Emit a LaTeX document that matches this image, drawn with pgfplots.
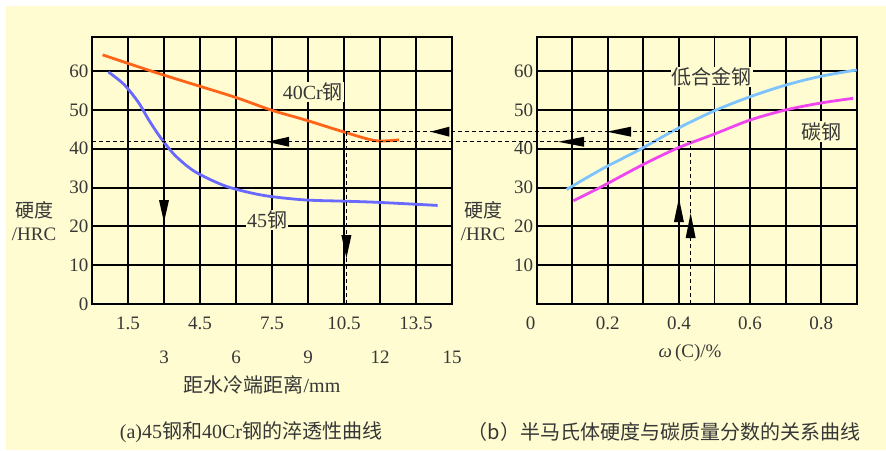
\documentclass[border=0pt]{standalone}
\usepackage{pgfplots}
\pgfplotsset{compat=1.18}
\usepackage{fontspec}
\setmainfont{Liberation Serif}
\newfontfamily\cjk{Noto Sans CJK SC}
\definecolor{bg}{RGB}{254,252,208}
\definecolor{txt}{RGB}{55,55,55}
\definecolor{c40}{RGB}{255,100,25}
\definecolor{c45}{RGB}{105,105,255}
\definecolor{clow}{RGB}{125,195,255}
\definecolor{ccarb}{RGB}{240,70,240}
\pgfplotsset{myax/.style={
  scale only axis, height=267pt, ymin=0, ymax=68.8,
  grid=major, major grid style={black,line width=1.9pt},
  axis line style={black,line width=1.9pt}, major tick length=0pt,
  clip=false, xticklabels={},
  ticklabel style={font=\fontsize{19}{21}\selectfont, text=txt},
  /pgf/number format/assume math mode=true,
  anchor=south west}}
\tikzset{lab/.style={font=\fontsize{20}{22}\selectfont, text=txt},
  tl/.style={font=\fontsize{19}{21}\selectfont, text=txt},
  dsh/.style={black, line width=0.9pt, dash pattern=on 4pt off 3pt}}
\begin{document}
\begin{tikzpicture}[x=1pt,y=1pt]
\fill[bg] (0,0) rectangle (886,450);
\fill[white] (0,444) rectangle (886,450);
\fill[white] (0,0) rectangle (6,450);
\path[use as bounding box] (0,0) rectangle (886,450);

% ---------- (a) ----------
\begin{axis}[myax, at={(92pt,146pt)}, width=360pt,
  xmin=0, xmax=15, xtick={0,1.5,3,4.5,6,7.5,9,10.5,12,13.5,15}, ytick={0,10,20,30,40,50,60}]
\node[lab, fill=bg, inner sep=1pt] at (axis cs:9.2,54.6) {40Cr{\cjk 钢}};
\node[lab, fill=bg, inner sep=1pt] at (axis cs:7.3,21.6) {45{\cjk 钢}};
\addplot[c40, line width=2.8pt, smooth] coordinates {
 (0.44,64.2) (2.83,59.3) (5.9,53.4) (7.45,50) (8.9,47.4) (10.46,44.4) (11.8,42.1) (12.8,42.3)};
\addplot[c45, line width=2.8pt, smooth] coordinates {
 (0.68,59.8) (1.33,56.6) (1.93,52) (2.35,47.6) (2.83,43.1) (3.46,38.3) (4.29,34.1) (5.47,30.6)
 (6.5,28.8) (7.45,27.7) (8.9,26.8) (10.46,26.5) (11.9,26.2) (14.4,25.4)};
\draw[dsh] (axis cs:3,0) -- (axis cs:3,41.8);
\draw[dsh] (axis cs:10.6,0) -- (axis cs:10.6,44.4);
\coordinate (LA) at (axis cs:0,41.8);
\coordinate (LB) at (axis cs:10.6,44.4);
\fill (axis cs:7.3,41.8) -- ++(22pt,5pt) -- ++(0,-10pt) -- cycle;
\fill (axis cs:14.1,44.4) -- ++(19pt,5pt) -- ++(0,-10pt) -- cycle;
\fill (axis cs:3,21.1) -- ++(-5pt,22pt) -- ++(10pt,0) -- cycle;
\fill (axis cs:10.6,11.8) -- ++(-5pt,23pt) -- ++(10pt,0) -- cycle;
\pgfplotsinvokeforeach{1.5,4.5,7.5,10.5,13.5}{\node[tl] at ([yshift=-19pt]axis cs:#1,0) {#1};}
\pgfplotsinvokeforeach{3,6,9,12,15}{\node[tl] at ([yshift=-53pt]axis cs:#1,0) {#1};}
\end{axis}

% ---------- (b) ----------
\begin{axis}[myax, at={(536.7pt,146pt)}, width=320pt,
  xmin=0, xmax=0.9, xtick={0,0.1,0.2,0.3,0.4,0.5,0.6,0.7,0.8,0.9}, ytick={0,10,20,30,40,50,60},
  yticklabels={,10,20,30,40,50,60}]
\node[lab, fill=bg, inner sep=1pt] at (axis cs:0.492,58.5) {\cjk 低合金钢};
\node[lab, fill=bg, inner sep=1pt] at (axis cs:0.80,44.4) {\cjk 碳钢};
\addplot[clow, line width=2.8pt, smooth] coordinates {
 (0.084,29.5) (0.186,34.9) (0.288,39.7) (0.394,45.1) (0.5,49.8) (0.6,53.4) (0.7,56.4) (0.8,58.7) (0.9,60.3)};
\addplot[ccarb, line width=2.8pt, smooth] coordinates {
 (0.103,26.6) (0.186,30.4) (0.288,35.4) (0.394,40.1) (0.5,43.8) (0.6,47.4) (0.7,50) (0.8,51.8) (0.89,53)};
\draw[dsh] (axis cs:0.433,0) -- (axis cs:0.433,41.8);
\coordinate (RA) at (axis cs:0.433,41.8);
\coordinate (RB) at (axis cs:0.4,44.4);
\fill (axis cs:0.198,44.4) -- ++(24pt,5pt) -- ++(0,-10pt) -- cycle;
\fill (axis cs:0.06,41.8) -- ++(26pt,5pt) -- ++(0,-10pt) -- cycle;
\fill (axis cs:0.4,27.3) -- ++(-5pt,-24pt) -- ++(10pt,0) -- cycle;
\fill (axis cs:0.433,23.4) -- ++(-5pt,-25pt) -- ++(10pt,0) -- cycle;
\node[tl] at ([xshift=-6pt,yshift=-19pt]axis cs:0,0) {0};
\pgfplotsinvokeforeach{0.2,0.4,0.6,0.8}{\node[tl] at ([yshift=-19pt]axis cs:#1,0) {#1};}
\end{axis}

\draw[dsh] (LA) -- (RA);
\draw[dsh] (LB) -- (RB);

% axis titles
\node[lab, align=center, inner sep=0pt, font=\fontsize{19}{23}\selectfont] at (34,229) {{\cjk 硬度}\\/HRC};
\node[lab, align=center, inner sep=0pt, font=\fontsize{19}{23}\selectfont] at (483,229) {{\cjk 硬度}\\/HRC};
\node[lab] at (262,65) {{\cjk 距水冷端距离}/mm};
\node[tl] at (690,97) {\textit{ω}\,(C)/\%};
\node[lab] at (251,18) {(a)45{\cjk 钢和}40Cr{\cjk 钢的淬透性曲线}};
\node[lab] at (664,18) {{\cjk （b）半马氏体硬度与碳质量分数的关系曲线}};
\end{tikzpicture}
\end{document}
